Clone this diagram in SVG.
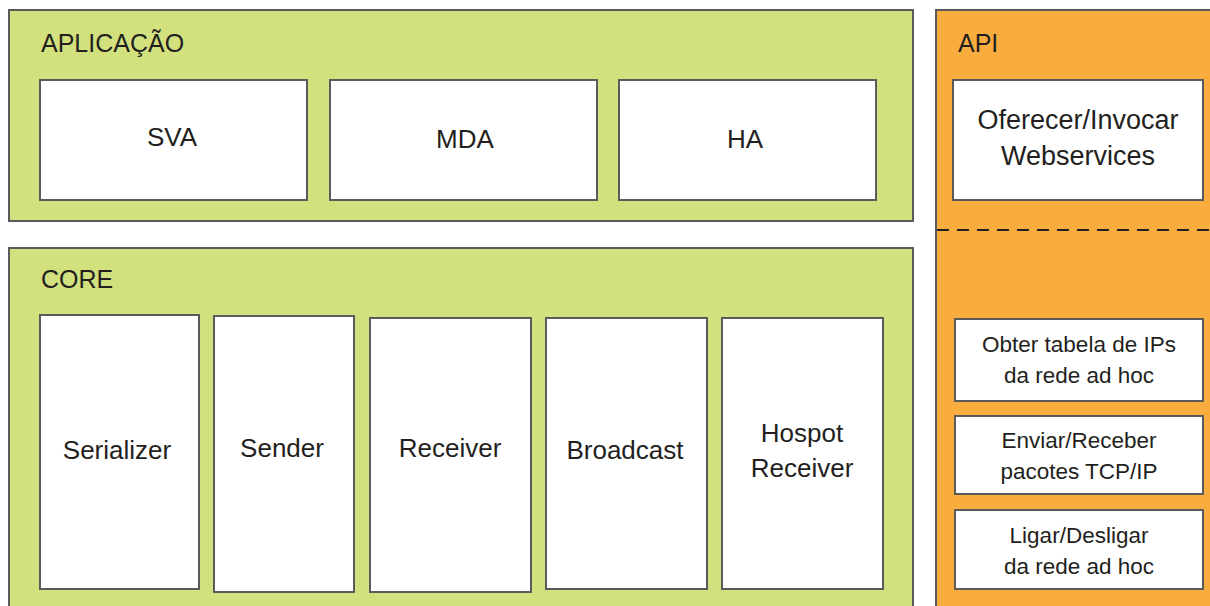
<svg xmlns="http://www.w3.org/2000/svg" width="1210" height="606" viewBox="0 0 1210 606">
<style>
.grp{fill:#d2e17e;stroke:#5b5b5b;stroke-width:2}
.api{fill:#faad3f;stroke:#5b5b5b;stroke-width:2}
.box{fill:#ffffff;stroke:#5b5b5b;stroke-width:2}
text{font-family:"Liberation Sans",Arial,sans-serif;fill:#231f20}
.t{font-size:26px;text-anchor:middle}
.w{font-size:27px;text-anchor:middle}
.s{font-size:22.5px;text-anchor:middle}
.h{font-size:25px}
</style>
<rect width="1210" height="606" fill="#ffffff"/>
<g id="aplicacao">
<rect class="grp" x="9" y="10" width="904" height="211"/>
<text class="h" x="41" y="52">APLICAÇÃO</text>
</g>
<g id="sva"><rect class="box" x="40" y="80" width="267" height="120"/><text class="t" x="172" y="146">SVA</text></g>
<g id="mda"><rect class="box" x="330" y="80" width="267" height="120"/><text class="t" x="465" y="148">MDA</text></g>
<g id="ha"><rect class="box" x="619" y="80" width="257" height="120"/><text class="t" x="745" y="148">HA</text></g>
<g id="core">
<rect class="grp" x="9" y="248" width="904" height="370"/>
<text class="h" x="41" y="288">CORE</text>
</g>
<g id="serializer"><rect class="box" x="40" y="315" width="159" height="274"/><text class="t" x="117" y="459">Serializer</text></g>
<g id="sender"><rect class="box" x="214" y="316" width="140" height="276"/><text class="t" x="282" y="457">Sender</text></g>
<g id="receiver"><rect class="box" x="370" y="318" width="161" height="274"/><text class="t" x="450" y="457">Receiver</text></g>
<g id="broadcast"><rect class="box" x="546" y="318" width="161" height="271"/><text class="t" x="625" y="459">Broadcast</text></g>
<g id="hospot"><rect class="box" x="722" y="318" width="161" height="271"/><text class="t" x="802" y="442">Hospot</text><text class="t" x="802" y="477">Receiver</text></g>
<g id="api">
<rect class="api" x="936" y="10" width="290" height="610"/>
<text class="h" x="958" y="52">API</text>
<line x1="937" y1="230" x2="1210" y2="230" stroke="#231f20" stroke-width="2" stroke-dasharray="12,8"/>
</g>
<g id="webservices"><rect class="box" x="953" y="80" width="250" height="120"/><text class="w" x="1078" y="129">Oferecer/Invocar</text><text class="w" x="1078" y="165">Webservices</text></g>
<g id="obter"><rect class="box" x="955" y="319" width="248" height="82"/><text class="s" x="1079" y="352">Obter tabela de IPs</text><text class="s" x="1079" y="383">da rede ad hoc</text></g>
<g id="enviar"><rect class="box" x="955" y="416" width="248" height="78"/><text class="s" x="1079" y="448">Enviar/Receber</text><text class="s" x="1079" y="479">pacotes TCP/IP</text></g>
<g id="ligar"><rect class="box" x="955" y="510" width="248" height="79"/><text class="s" x="1079" y="543">Ligar/Desligar</text><text class="s" x="1079" y="574">da rede ad hoc</text></g>
<g id="connectors"></g>
</svg>
